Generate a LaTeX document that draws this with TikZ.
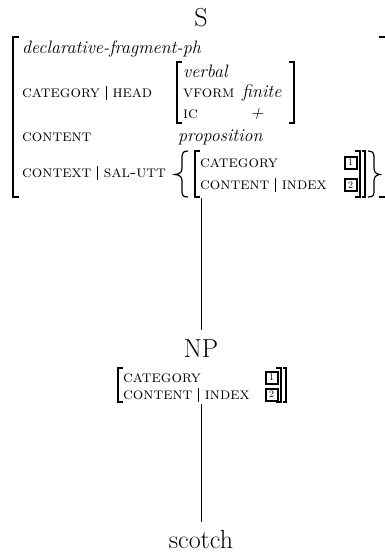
\documentclass[tikz,border=0pt]{standalone}
\usepackage{fontspec}
\newcommand\pathsep{\hspace{6pt}\rule[-2.5pt]{0.6pt}{13.5pt}\hspace{6pt}}
\begin{document}
\begin{tikzpicture}[x=1pt,y=-1pt,
  lab/.style={anchor=base west, inner sep=0pt, font=\fontsize{16.5}{19}\selectfont},
  ital/.style={anchor=base west, inner sep=0pt, font=\fontsize{18}{21}\selectfont\itshape},
  tree/.style={inner sep=0pt, font=\fontsize{26}{30}\selectfont},
  brk/.style={line width=1.2pt},
  edge/.style={line width=0.7pt},
  tag/.style={draw, line width=2pt, minimum size=12pt, inner sep=0pt, font=\fontsize{10}{11}\selectfont}]
\useasboundingbox (0,0) rectangle (385,557);
% tree labels
\node[tree] (s) at (201,18) {S};
% outer AVM brackets
\draw[brk] (19,37) -- (13,37) -- (13,197) -- (19,197);
\draw[brk] (379,37) -- (386,37) -- (386,197) -- (379,197);
\node[ital] (decl) at (22,53) {declarative-fragment-ph};
\node[lab] (cathead) at (22,97) {\textsc{category}\pathsep\textsc{head}};
% verbal sub-AVM
\draw[brk] (182,62) -- (177,62) -- (177,123) -- (182,123);
\draw[brk] (289,62) -- (294,62) -- (294,123) -- (289,123);
\node[ital] (verbal) at (183,77) {verbal};
\node[lab] (vform) at (183,97) {\textsc{vform}};
\node[ital] (finite) at (242,97) {finite};
\node[ital] (plus) at (250,118) {+};
\node[lab] (ic) at (183,118) {\textsc{ic}};
\node[lab] (content) at (22,141) {\textsc{content}};
\node[ital] (prop) at (178,141) {proposition};
\node[lab] (context) at (22,177) {\textsc{context}\pathsep\textsc{sal-utt}};
% set braces
\draw[brk] (188,151) .. controls (182,151) and (182,154) .. (182,160) -- (182,168)
  .. controls (182,172) and (180,174) .. (175,174.5)
  .. controls (180,175) and (182,177) .. (182,181) -- (182,189)
  .. controls (182,195) and (182,197) .. (188,197);
\draw[brk] (368,151) .. controls (374,151) and (374,154) .. (374,160) -- (374,168)
  .. controls (374,172) and (376,174) .. (380,174.5)
  .. controls (376,175) and (374,177) .. (374,181) -- (374,189)
  .. controls (374,195) and (374,197) .. (368,197);
% inner AVM
\draw[brk] (200,151) -- (195,151) -- (195,197) -- (200,197);
\draw[brk] (355,151) -- (360,151) -- (360,197) -- (355,197);
\draw[brk] (362,151) -- (365,151) -- (365,197) -- (362,197);
\node[lab] (icat) at (200,167) {\textsc{category}};
\node[lab] (icont) at (200,189) {\textsc{content}\pathsep\textsc{index}};
\node[tag] (t1) at (350.5,162.5) {1};
\node[tag] (t2) at (350.5,185) {2};
\coordinate (avmbot) at (201,198);
% NP
\node[tree] (np) at (201,349) {NP};
\coordinate (nptop) at (201,330);
\draw[edge] (avmbot) -- (nptop);
\draw[brk] (123,368) -- (118,368) -- (118,402) -- (123,402);
\draw[brk] (276,368) -- (281,368) -- (281,402) -- (276,402);
\draw[brk] (283,368) -- (286,368) -- (286,402) -- (283,402);
\node[lab] (ncat) at (123,382) {\textsc{category}};
\node[lab] (ncont) at (123,399) {\textsc{content}\pathsep\textsc{index}};
\node[tag] (n1) at (271.5,377.5) {1};
\node[tag] (n2) at (271.5,394.5) {2};
\coordinate (npbot) at (201,404);
\node[tree] (scotch) at (201,540) {scotch};
\coordinate (sctop) at (201,522);
\draw[edge] (npbot) -- (sctop);
\end{tikzpicture}
\end{document}
